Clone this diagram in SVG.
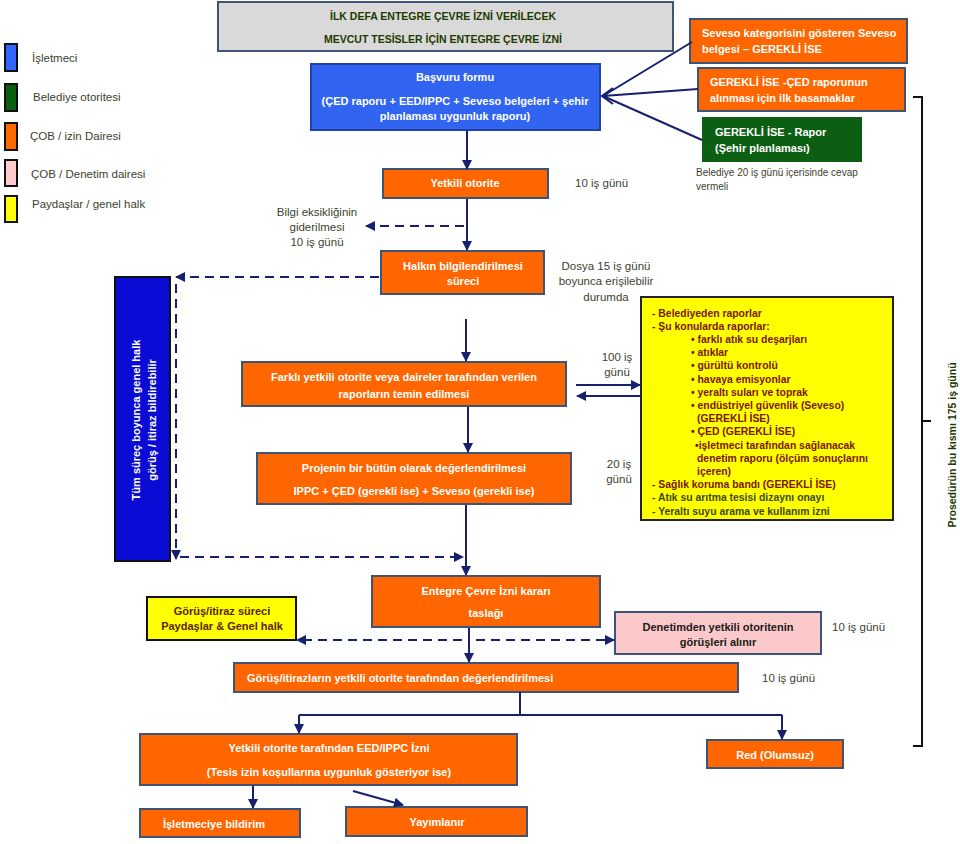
<svg xmlns="http://www.w3.org/2000/svg" width="960" height="844" viewBox="0 0 960 844">
<defs>
<style>
text{font-family:"Liberation Sans",Arial,sans-serif}
.bo{fill:#ff6600;stroke:#3b5478;stroke-width:2}
.tw{fill:#fff;font-weight:bold;font-size:11px;text-anchor:middle}
.twl{fill:#fff;font-weight:bold;font-size:11px}
.lbl{fill:#3b3f2e;font-size:11.5px}
.lbc{fill:#3b3f2e;font-size:11.5px;text-anchor:middle}
.con{stroke:#16206e;stroke-width:2;fill:none}
.dash{stroke-dasharray:9,6}
.yl{fill:#7a1500;font-weight:bold;font-size:10.4px}
.yg{fill:#3d4a00;font-weight:bold;font-size:10.4px}
.leg{stroke:#111;stroke-width:2}
</style>
<marker id="ah" viewBox="0 0 10 10" refX="9" refY="5" markerWidth="10" markerHeight="10" markerUnits="userSpaceOnUse" orient="auto">
<path d="M0,0 L10,5 L0,10 z" fill="#16206e"/>
</marker>
</defs>
<rect width="960" height="844" fill="#fff"/>

<g id="legend">
<rect class="leg" x="5" y="44" width="12" height="27" fill="#3366ff"/>
<rect class="leg" x="5" y="84" width="12" height="27" fill="#0b5e12"/>
<rect class="leg" x="5" y="123" width="12" height="27" fill="#ff6a00"/>
<rect class="leg" x="5" y="160" width="12" height="26" fill="#ffcccc"/>
<rect class="leg" x="5" y="196" width="12" height="26" fill="#ffff00"/>
<text class="lbl" x="32" y="62">İşletmeci</text>
<text class="lbl" x="33" y="101">Belediye otoritesi</text>
<text class="lbl" x="30" y="140">ÇOB / izin Dairesi</text>
<text class="lbl" x="31" y="178">ÇOB / Denetim dairesi</text>
<text class="lbl" x="32" y="208">Paydaşlar / genel halk</text>
</g>

<g id="title">
<rect x="218" y="2" width="455" height="49" fill="#d9d9d9" stroke="#3f5478" stroke-width="2"/>
<text x="443" y="20" fill="#1f3a00" font-weight="bold" font-size="10.5" text-anchor="middle">İLK DEFA ENTEGRE ÇEVRE İZNİ VERİLECEK</text>
<text x="443" y="43" fill="#1f3a00" font-weight="bold" font-size="10.5" text-anchor="middle">MEVCUT TESİSLER İÇİN ENTEGRE ÇEVRE İZNİ</text>
</g>

<g id="basvuru">
<rect x="311" y="64" width="289" height="66" fill="#3264f2" stroke="#2341a8" stroke-width="2"/>
<text class="tw" x="455" y="81">Başvuru formu</text>
<text class="tw" x="455" y="105">(ÇED raporu + EED/IPPC + Seveso belgeleri + şehir</text>
<text class="tw" x="455" y="120">planlaması uygunluk raporu)</text>
</g>

<g id="seveso">
<rect class="bo" x="690" y="19" width="217" height="44"/>
<text class="twl" x="702" y="37">Seveso kategorisini gösteren Seveso</text>
<text class="twl" x="702" y="53">belgesi – GEREKLİ İSE</text>
</g>
<g id="ced">
<rect class="bo" x="698" y="68" width="207" height="43"/>
<text class="twl" x="710" y="86">GEREKLİ İSE -ÇED raporunun</text>
<text class="twl" x="710" y="102">alınması için ilk basamaklar</text>
</g>
<g id="sehir">
<rect x="702" y="117" width="160" height="45" fill="#0b5e12"/>
<text class="twl" x="715" y="136">GEREKLİ İSE - Rapor</text>
<text class="twl" x="715" y="152">(Şehir planlaması)</text>
<text x="696" y="176" fill="#3b3f2e" font-size="10">Belediye 20 iş günü içerisinde cevap</text>
<text x="696" y="190" fill="#3b3f2e" font-size="10">vermeli</text>
</g>

<g id="yetkili">
<rect class="bo" x="383" y="169" width="165" height="29"/>
<text class="tw" x="465" y="187">Yetkili otorite</text>
<text class="lbl" x="575" y="187">10 iş günü</text>
</g>

<g id="bilgi">
<text class="lbc" x="317" y="216">Bilgi eksikliğinin</text>
<text class="lbc" x="317" y="231">giderilmesi</text>
<text class="lbc" x="317" y="246">10 iş günü</text>
</g>

<g id="halkin">
<rect class="bo" x="381" y="251" width="163" height="43"/>
<text class="tw" x="463" y="270">Halkın bilgilendirilmesi</text>
<text class="tw" x="463" y="285">süreci</text>
<text class="lbc" x="606" y="270">Dosya 15 iş günü</text>
<text class="lbc" x="606" y="285">boyunca erişilebilir</text>
<text class="lbc" x="606" y="301">durumda</text>
</g>

<g id="tumsurec">
<rect x="115" y="277" width="55" height="284" fill="#0b0bd6" stroke="#111" stroke-width="2"/>
<text class="tw" transform="translate(140,420) rotate(-90)">Tüm süreç boyunca genel halk</text>
<text class="tw" transform="translate(156,420) rotate(-90)">görüş / itiraz bildirebilir</text>
</g>

<g id="farkli">
<rect class="bo" x="242" y="362" width="324" height="44"/>
<text class="tw" x="404" y="381">Farklı yetkili otorite veya daireler tarafından verilen</text>
<text class="tw" x="404" y="398">raporların temin edilmesi</text>
<text class="lbc" x="617" y="361">100 iş</text>
<text class="lbc" x="617" y="376">günü</text>
</g>

<g id="projenin">
<rect class="bo" x="257" y="453" width="314" height="51"/>
<text class="tw" x="414" y="472">Projenin bir bütün olarak değerlendirilmesi</text>
<text class="tw" x="414" y="495">IPPC +  ÇED (gerekli ise) + Seveso (gerekli ise)</text>
<text class="lbc" x="619" y="468">20 iş</text>
<text class="lbc" x="619" y="483">günü</text>
</g>

<g id="raporlar">
<rect x="641" y="297" width="252" height="223" fill="#ffff00" stroke="#222" stroke-width="2"/>
<text class="yl" x="652" y="316.5">- Belediyeden raporlar</text>
<text class="yl" x="652" y="329.7">- Şu konularda raporlar:</text>
<text class="yl" x="691" y="342.9">• farklı atık su deşarjları</text>
<text class="yl" x="691" y="356.1">• atıklar</text>
<text class="yl" x="691" y="369.3">• gürültü kontrolü</text>
<text class="yl" x="691" y="382.5">• havaya emisyonlar</text>
<text class="yl" x="691" y="395.7">• yeraltı suları ve toprak</text>
<text class="yl" x="691" y="408.9">• endüstriyel güvenlik (Seveso)</text>
<text class="yl" x="697" y="422.1">(GEREKLİ İSE)</text>
<text class="yl" x="691" y="435.3">• ÇED (GEREKLİ İSE)</text>
<text class="yl" x="695" y="448.5">•işletmeci tarafından sağlanacak</text>
<text class="yl" x="697" y="461.7">denetim raporu (ölçüm sonuçlarını</text>
<text class="yl" x="697" y="474.9">içeren)</text>
<text class="yl" x="652" y="488.1">- Sağlık koruma bandı (GEREKLİ İSE)</text>
<text class="yg" x="652" y="501.3">- Atık su arıtma tesisi dizaynı onayı</text>
<text class="yg" x="652" y="514.5">- Yeraltı suyu arama ve kullanım izni</text>
</g>

<g id="entegre">
<rect class="bo" x="372" y="576" width="228" height="51"/>
<text class="tw" x="486" y="595">Entegre Çevre İzni kararı</text>
<text class="tw" x="486" y="617">taslağı</text>
</g>

<g id="gorus">
<rect x="147" y="597" width="149" height="43" fill="#ffff00" stroke="#111" stroke-width="2"/>
<text x="222" y="615" fill="#5c1f00" font-weight="bold" font-size="11" text-anchor="middle">Görüş/itiraz süreci</text>
<text x="222" y="630" fill="#5c1f00" font-weight="bold" font-size="11" text-anchor="middle">Paydaşlar &amp; Genel halk</text>
</g>

<g id="denetim">
<rect x="615" y="612" width="206" height="42" fill="#fcc9cb" stroke="#3b5478" stroke-width="2"/>
<text x="718" y="631" fill="#1a1a1a" font-weight="bold" font-size="11" text-anchor="middle">Denetimden yetkili otoritenin</text>
<text x="718" y="646" fill="#1a1a1a" font-weight="bold" font-size="11" text-anchor="middle">görüşleri alınır</text>
<text class="lbl" x="832" y="631">10 iş  günü</text>
</g>

<g id="degerlendirme">
<rect class="bo" x="234" y="663" width="504" height="29"/>
<text class="twl" x="247" y="682">Görüş/itirazların yetkili otorite tarafından değerlendirilmesi</text>
<text class="lbl" x="762" y="682">10 iş günü</text>
</g>

<g id="eed">
<rect class="bo" x="140" y="734" width="377" height="51"/>
<text class="tw" x="329" y="752">Yetkili otorite tarafından EED/IPPC İzni</text>
<text class="tw" x="329" y="776">(Tesis izin koşullarına uygunluk gösteriyor ise)</text>
</g>

<g id="red">
<rect class="bo" x="707" y="740" width="136" height="28"/>
<text class="tw" x="775" y="759">Red (Olumsuz)</text>
</g>

<g id="bildirim">
<rect class="bo" x="140" y="809" width="160" height="28"/>
<text class="tw" x="214" y="828">İşletmeciye bildirim</text>
</g>

<g id="yayim">
<rect class="bo" x="346" y="807" width="181" height="29"/>
<text class="tw" x="437" y="826">Yayımlanır</text>
</g>

<g id="sure">
<path d="M913,97 L922,97 L922,746 L913,746 M922,421 L931,421" fill="none" stroke="#111" stroke-width="2"/>
<text x="0" y="0" fill="#1f3a00" font-weight="bold" font-size="10.5" text-anchor="middle" transform="translate(956,445) rotate(-90)">Prosedürün bu kısmı 175 iş günü</text>
</g>

<g id="connectors">
<path class="con" d="M603,96 L692,42 M603,96 L698,89 M603,96 L702,140"/>
<path class="con" d="M613,88 L602,96 L613,104"/>
<path class="con" d="M467,131 L467,169" marker-end="url(#ah)"/>
<path class="con" d="M467,199 L467,250" marker-end="url(#ah)"/>
<path class="con dash" d="M464,226 L366,226" marker-end="url(#ah)"/>
<path class="con dash" d="M379,277 L176,277" marker-end="url(#ah)"/>
<path class="con dash" d="M176,284 L176,559" marker-end="url(#ah)"/>
<path class="con dash" d="M180,557 L463,557" marker-end="url(#ah)"/>
<path class="con" d="M466,319 L466,361" marker-end="url(#ah)"/>
<path class="con" d="M576,385 L640,385" marker-end="url(#ah)"/>
<path class="con" d="M640,396 L577,396" marker-end="url(#ah)"/>
<path class="con" d="M468,407 L468,452" marker-end="url(#ah)"/>
<path class="con" d="M466,505 L466,575" marker-end="url(#ah)"/>
<path class="con" d="M469,628 L469,662" marker-end="url(#ah)"/>
<path class="con dash" d="M462,640 L297,640" marker-end="url(#ah)"/>
<path class="con dash" d="M476,640 L614,640" marker-end="url(#ah)"/>
<path class="con" d="M520,692 L520,715 M299,715 L782,715"/>
<path class="con" d="M299,715 L299,733" marker-end="url(#ah)"/>
<path class="con" d="M782,715 L782,739" marker-end="url(#ah)"/>
<path class="con" d="M253,786 L253,808" marker-end="url(#ah)"/>
<path class="con" d="M353,791 L403,805" marker-end="url(#ah)"/>
</g>
</svg>
